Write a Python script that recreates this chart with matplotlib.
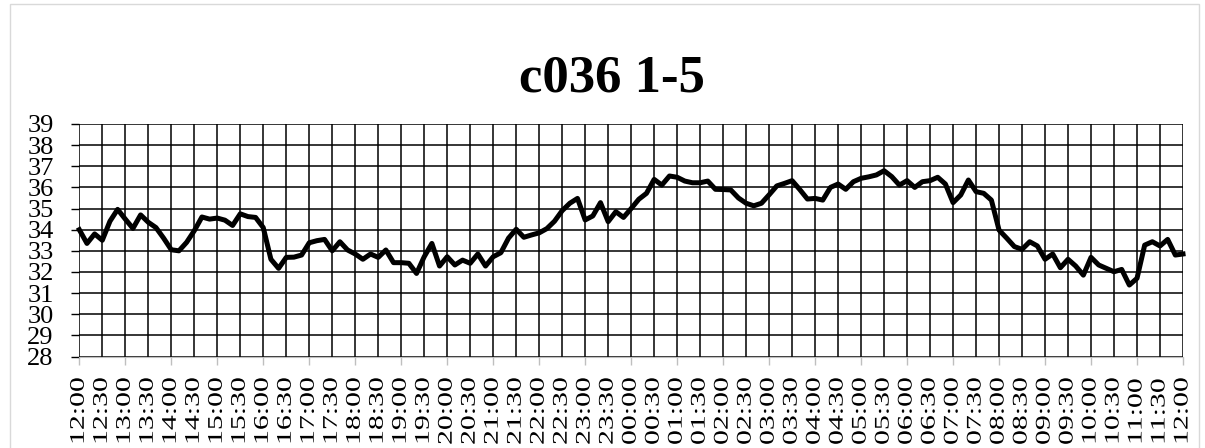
# c036 1-5 temperature trace, 10-minute readings over 24 h

import matplotlib.pyplot as plt
from matplotlib.patheffects import AbstractPathEffect
from matplotlib.transforms import Affine2D
from matplotlib.patches import Rectangle

title = "c036 1-5"

# one reading every 10 minutes, 12:00 -> 12:00 (145 values)
temps = [
    34.0, 33.35, 33.8, 33.5, 34.4, 34.96, 34.5, 34.06, 34.7, 34.35,
    34.1, 33.6, 33.05, 33.0, 33.4, 33.95, 34.6, 34.5, 34.55, 34.45,
    34.2, 34.75, 34.62, 34.58, 34.1, 32.6, 32.17, 32.69, 32.7, 32.8,
    33.38, 33.48, 33.54, 33.0, 33.43, 33.04, 32.85, 32.6, 32.85, 32.69,
    33.04, 32.44, 32.44, 32.41, 31.93, 32.72, 33.35, 32.28, 32.72, 32.33,
    32.56, 32.41, 32.85, 32.28, 32.72, 32.91, 33.6, 34.02, 33.64, 33.75,
    33.85, 34.05, 34.4, 34.9, 35.25, 35.48, 34.46, 34.65, 35.28, 34.38,
    34.85, 34.58, 35.0, 35.44, 35.72, 36.38, 36.11, 36.54, 36.48, 36.3,
    36.22, 36.22, 36.3, 35.91, 35.9, 35.88, 35.5, 35.25, 35.13, 35.25,
    35.65, 36.07, 36.19, 36.32, 35.9, 35.45, 35.48, 35.4, 36.0, 36.16,
    35.91, 36.27, 36.43, 36.5, 36.59, 36.79, 36.51, 36.11, 36.32, 36.0,
    36.27, 36.32, 36.48, 36.16, 35.28, 35.64, 36.35, 35.8, 35.72, 35.4,
    33.98, 33.6, 33.2, 33.07, 33.43, 33.23, 32.6, 32.85, 32.2, 32.6,
    32.28, 31.85, 32.69, 32.33, 32.17, 32.01, 32.12, 31.38, 31.7, 33.27,
    33.43, 33.23, 33.54, 32.8, 32.85,
]

# category labels, one every 30 minutes
time_labels = [
    "12:00", "12:30", "13:00", "13:30", "14:00", "14:30", "15:00", "15:30",
    "16:00", "16:30", "17:00", "17:30", "18:00", "18:30", "19:00", "19:30",
    "20:00", "20:30", "21:00", "21:30", "22:00", "22:30", "23:00", "23:30",
    "00:00", "00:30", "01:00", "01:30", "02:00", "02:30", "03:00", "03:30",
    "04:00", "04:30", "05:00", "05:30", "06:00", "06:30", "07:00", "07:30",
    "08:00", "08:30", "09:00", "09:30", "10:00", "10:30", "11:00", "11:30",
    "12:00",
]

y_ticks = [28, 29, 30, 31, 32, 33, 34, 35, 36, 37, 38, 39]


class Stretch(AbstractPathEffect):
    """Stretch glyphs along the text direction (Excel-style tall labels)."""

    def __init__(self, sx):
        super().__init__()
        self.sx = sx

    def draw_path(self, renderer, gc, tpath, affine, rgbFace=None):
        renderer.draw_path(gc, tpath, Affine2D().scale(self.sx, 1.0) + affine, rgbFace)


W, H = 1205, 448
fig = plt.figure(figsize=(W / 100, H / 100), dpi=100)
left, right, top, bottom = 79.3, 1183, 124, 356.5
ax = fig.add_axes([left / W, 1 - bottom / H, (right - left) / W, (bottom - top) / H])

n = len(temps)
ax.plot(range(n), temps, color="black", lw=3.6, solid_joinstyle="round",
        clip_on=False, zorder=3)
ax.set_xlim(0, n - 1)
ax.set_ylim(28, 39)

# gridlines every 30 min, tick marks every hour
ax.set_xticks(range(0, n, 6))
ax.set_xticks(range(0, n, 3), minor=True)
ax.tick_params(axis="x", which="major", length=6, width=1, color="#bfbfbf",
               labelbottom=False)
ax.tick_params(axis="x", which="minor", length=0)
ax.grid(axis="x", which="both", color="black", lw=1.1)

ax.set_yticks(y_ticks)
ax.set_yticklabels([str(v) for v in y_ticks], family="Liberation Serif", fontsize=19)
ax.tick_params(axis="y", length=5.5, width=1, color="black", pad=13)
ax.grid(axis="y", color="black", lw=1.1)
ax.set_axisbelow(True)

for s in ["top", "right", "left"]:
    ax.spines[s].set_visible(False)
ax.spines["bottom"].set_color("#bfbfbf")
ax.spines["bottom"].set_zorder(2)

# rotated category labels, stretched along their length
label_start = -(445 - bottom) / (bottom - top)
for k, lab in enumerate(time_labels):
    t = ax.text(k * 3, label_start, lab, transform=ax.get_xaxis_transform(),
                rotation=90, rotation_mode="anchor", ha="left", va="center",
                family="Liberation Serif", fontsize=15, clip_on=False)
    t.set_path_effects([Stretch(1.43)])

fig.text(612 / W, 1 - 91 / H, title, ha="center", va="baseline",
         family="Liberation Serif", fontweight="bold", fontsize=38)

# chart area border
fig.add_artist(Rectangle((10 / W, -0.05), (1199 - 10) / W, 1.05 - 4 / H,
                         transform=fig.transFigure, fill=False,
                         edgecolor="#d9d9d9", lw=1))

fig.savefig("out.png", dpi=100)
